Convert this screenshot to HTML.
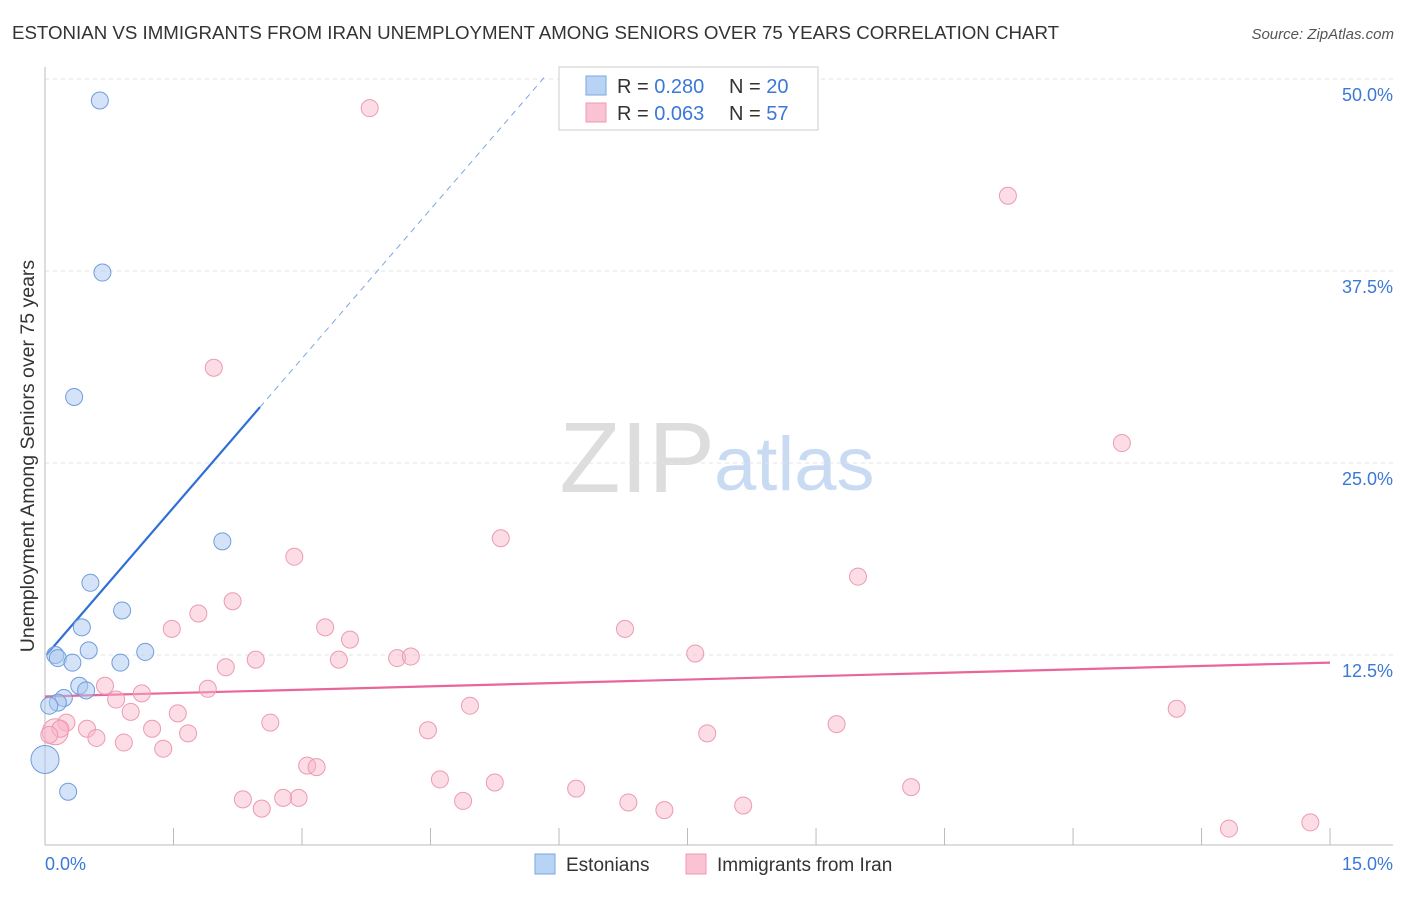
<!DOCTYPE html>
<html><head><meta charset="utf-8"><style>
body{margin:0;background:#fff;font-family:"Liberation Sans",sans-serif}
svg text{font-family:"Liberation Sans",sans-serif}
</style></head><body>
<svg width="1406" height="892" xmlns="http://www.w3.org/2000/svg">
<text x="12" y="39" font-size="18.7" fill="#333">ESTONIAN VS IMMIGRANTS FROM IRAN UNEMPLOYMENT AMONG SENIORS OVER 75 YEARS CORRELATION CHART</text>
<text x="1394" y="39" font-size="15" fill="#555" font-style="italic" text-anchor="end">Source: ZipAtlas.com</text>
<text x="715" y="492" font-size="100" fill="#ddd" text-anchor="end" font-family="Liberation Serif">ZIP</text>
<text x="714" y="490" font-size="76" fill="#c9dbf3">atlas</text>
<g id="grid"></g>
<line x1="45" y1="67" x2="45" y2="845" stroke="#bbb"/>
<line x1="45" y1="845" x2="1393" y2="845" stroke="#bbb"/>
<g id="xticks"></g>
<text x="45" y="870" font-size="18" fill="#3b78d8">0.0%</text>
<text x="1393" y="870" font-size="18" fill="#3b78d8" text-anchor="end">15.0%</text>
<text transform="translate(34,456) rotate(-90)" font-size="19.5" fill="#333" text-anchor="middle">Unemployment Among Seniors over 75 years</text>
<g id="lines"></g>
<g id="pts"></g>
<g>
<rect x="559" y="67" width="259" height="63" fill="#fff" stroke="#ccc"/>
<rect x="586" y="76" width="20" height="19" fill="#b9d3f5" stroke="#7aa7e0"/>
<rect x="586" y="103" width="20" height="19" fill="#f9c3d3" stroke="#ef97b1"/>
<text x="617" y="93" font-size="20" fill="#333">R = <tspan fill="#3b78d8">0.280</tspan></text>
<text x="729" y="93" font-size="20" fill="#333">N = <tspan fill="#3b78d8">20</tspan></text>
<text x="617" y="120" font-size="20" fill="#333">R = <tspan fill="#3b78d8">0.063</tspan></text>
<text x="729" y="120" font-size="20" fill="#333">N = <tspan fill="#3b78d8"> 57</tspan></text>
</g>
<g>
<rect x="535" y="854" width="20" height="20" fill="#b9d3f5" stroke="#7aa7e0"/>
<text x="566" y="871" font-size="19" fill="#333">Estonians</text>
<rect x="686" y="854" width="20" height="20" fill="#f9c3d3" stroke="#ef97b1"/>
<text x="717" y="871" font-size="19" fill="#333">Immigrants from Iran</text>
</g>
</svg>
<script>
const yTicks=[12.5,25,37.5,50];
const yTickLabels=["12.5%","25.0%","37.5%","50.0%"];
const xTicks=[0,1.5,3,4.5,6,7.5,9,10.5,12,13.5,15];
const blueX=[0.64,0.67,0.34,2.07,0.53,0.90,0.43,0.51,1.17,0.12,0.15,0.32,0.88,0.40,0.48,0.22,0.15,0.0,0.27,0.05];
const blueY=[48.6,37.4,29.3,19.9,17.2,15.4,14.3,12.8,12.7,12.5,12.3,12.0,12.0,10.5,10.2,9.7,9.4,5.7,3.6,9.2];
const pinkX=[3.79,11.24,1.97,12.57,5.32,2.91,9.49,2.19,1.79,1.48,3.27,6.77,3.56,7.59,2.46,3.43,4.11,4.27,2.11,0.70,1.90,1.13,0.83,4.96,13.21,1.00,1.55,0.25,2.63,9.24,0.49,1.25,4.47,1.67,0.60,7.73,0.92,1.38,3.06,3.17,4.61,5.25,10.11,6.20,2.31,2.96,2.78,4.88,6.81,8.15,2.53,7.23,13.82,14.77,0.12,0.18,0.05];
const pinkY=[48.1,42.4,31.2,26.3,20.1,18.9,17.6,16.0,15.2,14.2,14.3,14.2,13.5,12.6,12.2,12.2,12.3,12.4,11.7,10.5,10.3,10.0,9.6,9.2,9.0,8.8,8.7,8.1,8.1,8.0,7.7,7.7,7.6,7.4,7.1,7.4,6.8,6.4,5.3,5.2,4.4,4.2,3.9,3.8,3.1,3.2,3.2,3.0,2.9,2.7,2.5,2.4,1.2,1.6,7.5,7.7,7.3];
const blueTrend=[12.4,6.47];
const pinkTrend=[9.8,0.147];
const NS="http://www.w3.org/2000/svg";
const X=v=>45+v*85.67, Y=v=>847-v*15.36;
function mk(p,t,a){const e=document.createElementNS(NS,t);for(const k in a)e.setAttribute(k,a[k]);document.getElementById(p).appendChild(e);return e;}
yTicks.forEach((t,i)=>{
 const l=mk('grid','line',{x1:45,x2:1393,y1:Y(t),y2:Y(t),stroke:'#e3e3e3','stroke-dasharray':'4,4'});
 
 
 const tx=mk('grid','text',{x:1393,y:Y(t)+22,'font-size':18,fill:'#3b78d8','text-anchor':'end'});
 tx.textContent=yTickLabels[i];
 
 
});
xTicks.forEach(t=>{
 const l=mk('xticks','line',{x1:X(t),x2:X(t),y1:828,y2:845,stroke:'#bbb'});
 
 
});
let bl=mk('lines','line',{x1:X(0.02),y1:Y(blueTrend[0]+blueTrend[1]*0.02),x2:X(2.51),y2:Y(blueTrend[0]+blueTrend[1]*2.51),stroke:'#2f6fd6','stroke-width':2.2});


const xe=(50.3-blueTrend[0])/blueTrend[1];
let bd=mk('lines','line',{x1:X(2.51),y1:Y(blueTrend[0]+blueTrend[1]*2.51),x2:X(xe),y2:Y(50.3),stroke:'#7aa7e0','stroke-width':1,'stroke-dasharray':'6,5'});


let pl=mk('lines','line',{x1:X(0),y1:Y(pinkTrend[0]),x2:X(15),y2:Y(pinkTrend[0]+pinkTrend[1]*15),stroke:'#e8669a','stroke-width':2.2});


pinkX.forEach((x,i)=>{
 const r=i==54?13:8.5;
 const c=mk('pts','circle',{cx:X(x),cy:Y(pinkY[i]),r:r,fill:'rgba(248,180,200,0.45)',stroke:'#ec9ab4','stroke-width':1});
 
 
});
blueX.forEach((x,i)=>{
 const r=i==17?14:8.5;
 const c=mk('pts','circle',{cx:X(x),cy:Y(blueY[i]),r:r,fill:'rgba(170,200,240,0.5)',stroke:'#6f9ddc','stroke-width':1});
 
 
});
</script>
</body></html>
